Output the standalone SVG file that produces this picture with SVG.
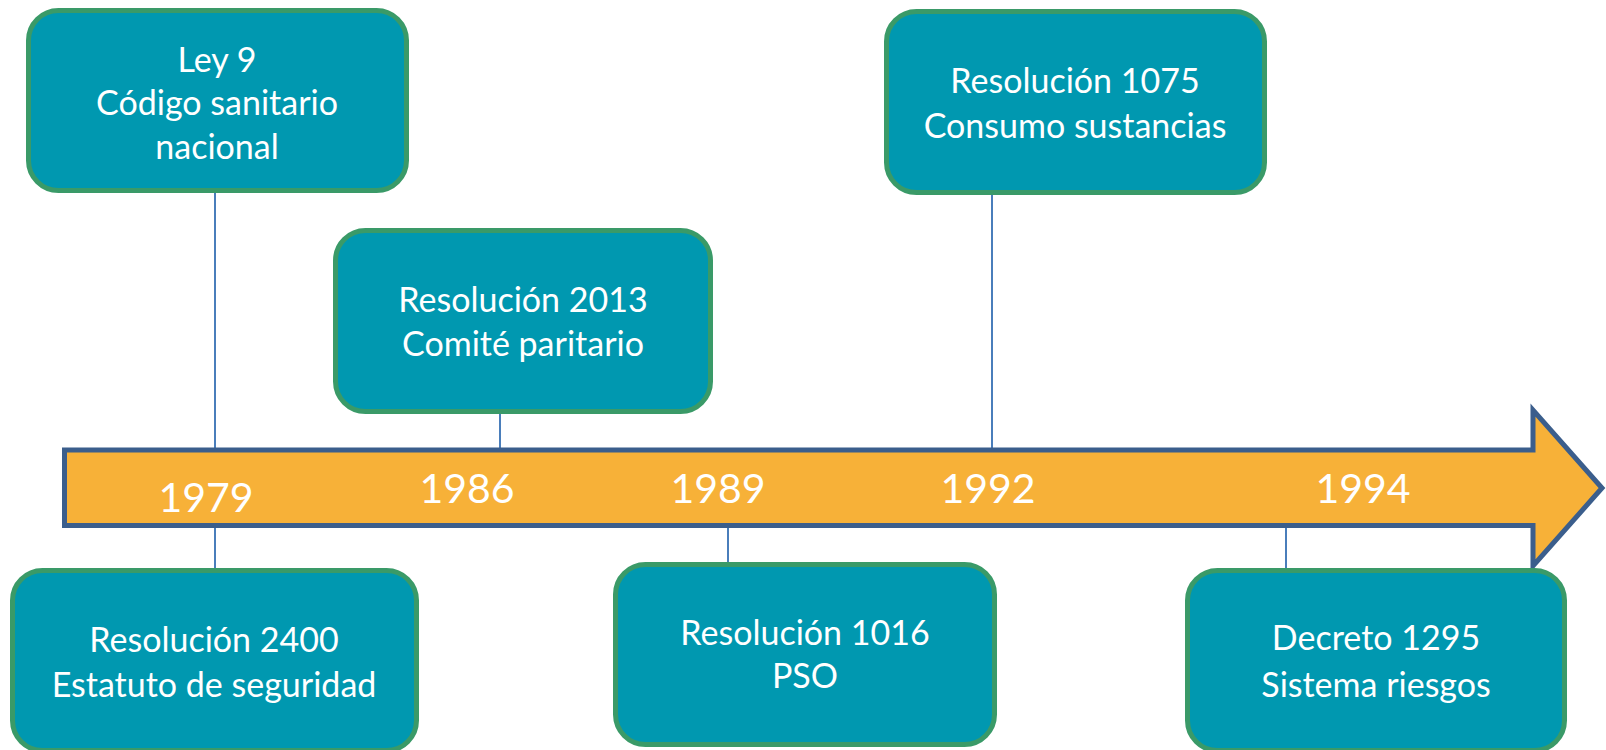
<svg xmlns="http://www.w3.org/2000/svg" width="1606" height="750" viewBox="0 0 1606 750">
<style>
.box{fill:#0098B0;stroke:#3A9A68;stroke-width:5}
.t{fill:#ffffff;font-family:Lato,"Liberation Sans",sans-serif;font-size:34px;text-anchor:middle}
.yr{fill:#ffffff;font-family:Lato,"Liberation Sans",sans-serif;font-size:41px;text-anchor:middle}
.ln{stroke:#4A7EBB;stroke-width:2;fill:none}
</style>
<rect width="1606" height="750" fill="#ffffff"/>
<g id="connectors">
<line class="ln" x1="215" y1="193" x2="215" y2="448"/>
<line class="ln" x1="215" y1="527" x2="215" y2="569"/>
<line class="ln" x1="500" y1="414" x2="500" y2="448"/>
<line class="ln" x1="728" y1="527" x2="728" y2="562"/>
<line class="ln" x1="992" y1="195" x2="992" y2="448"/>
<line class="ln" x1="1286" y1="527" x2="1286" y2="569"/>
</g>
<g id="timeline">
<polygon points="64.5,450 1533,450 1533,410 1602,488 1533,566 1533,525.5 64.5,525.5" fill="#F7B138" stroke="#3B5E8C" stroke-width="5"/>
<text class="yr" x="206" y="512">1979</text>
<text class="yr" x="467" y="503">1986</text>
<text class="yr" x="718" y="503">1989</text>
<text class="yr" x="988" y="503">1992</text>
<text class="yr" x="1363" y="503">1994</text>
</g>
<g id="n-ley9">
<rect class="box" x="28.5" y="10.5" width="378" height="180" rx="30"/>
<text class="t" x="217" y="72">Ley 9</text>
<text class="t" x="217" y="115">Código sanitario</text>
<text class="t" x="217" y="159">nacional</text>
</g>
<g id="n-2013">
<rect class="box" x="335.5" y="230.5" width="375" height="181" rx="30"/>
<text class="t" x="523" y="312">Resolución 2013</text>
<text class="t" x="523" y="356">Comité paritario</text>
</g>
<g id="n-1075">
<rect class="box" x="886.5" y="11.5" width="378" height="181" rx="30"/>
<text class="t" x="1075" y="93">Resolución 1075</text>
<text class="t" x="1075" y="138">Consumo sustancias</text>
</g>
<g id="n-2400">
<rect class="box" x="12.5" y="570.5" width="404" height="180" rx="30"/>
<text class="t" x="214" y="652">Resolución 2400</text>
<text class="t" x="214" y="697">Estatuto de seguridad</text>
</g>
<g id="n-1016">
<rect class="box" x="615.5" y="564.5" width="379" height="180" rx="30"/>
<text class="t" x="805" y="645">Resolución 1016</text>
<text class="t" x="805" y="688">PSO</text>
</g>
<g id="n-1295">
<rect class="box" x="1187.5" y="570.5" width="377" height="180" rx="30"/>
<text class="t" x="1376" y="650">Decreto 1295</text>
<text class="t" x="1376" y="697">Sistema riesgos</text>
</g>
</svg>
